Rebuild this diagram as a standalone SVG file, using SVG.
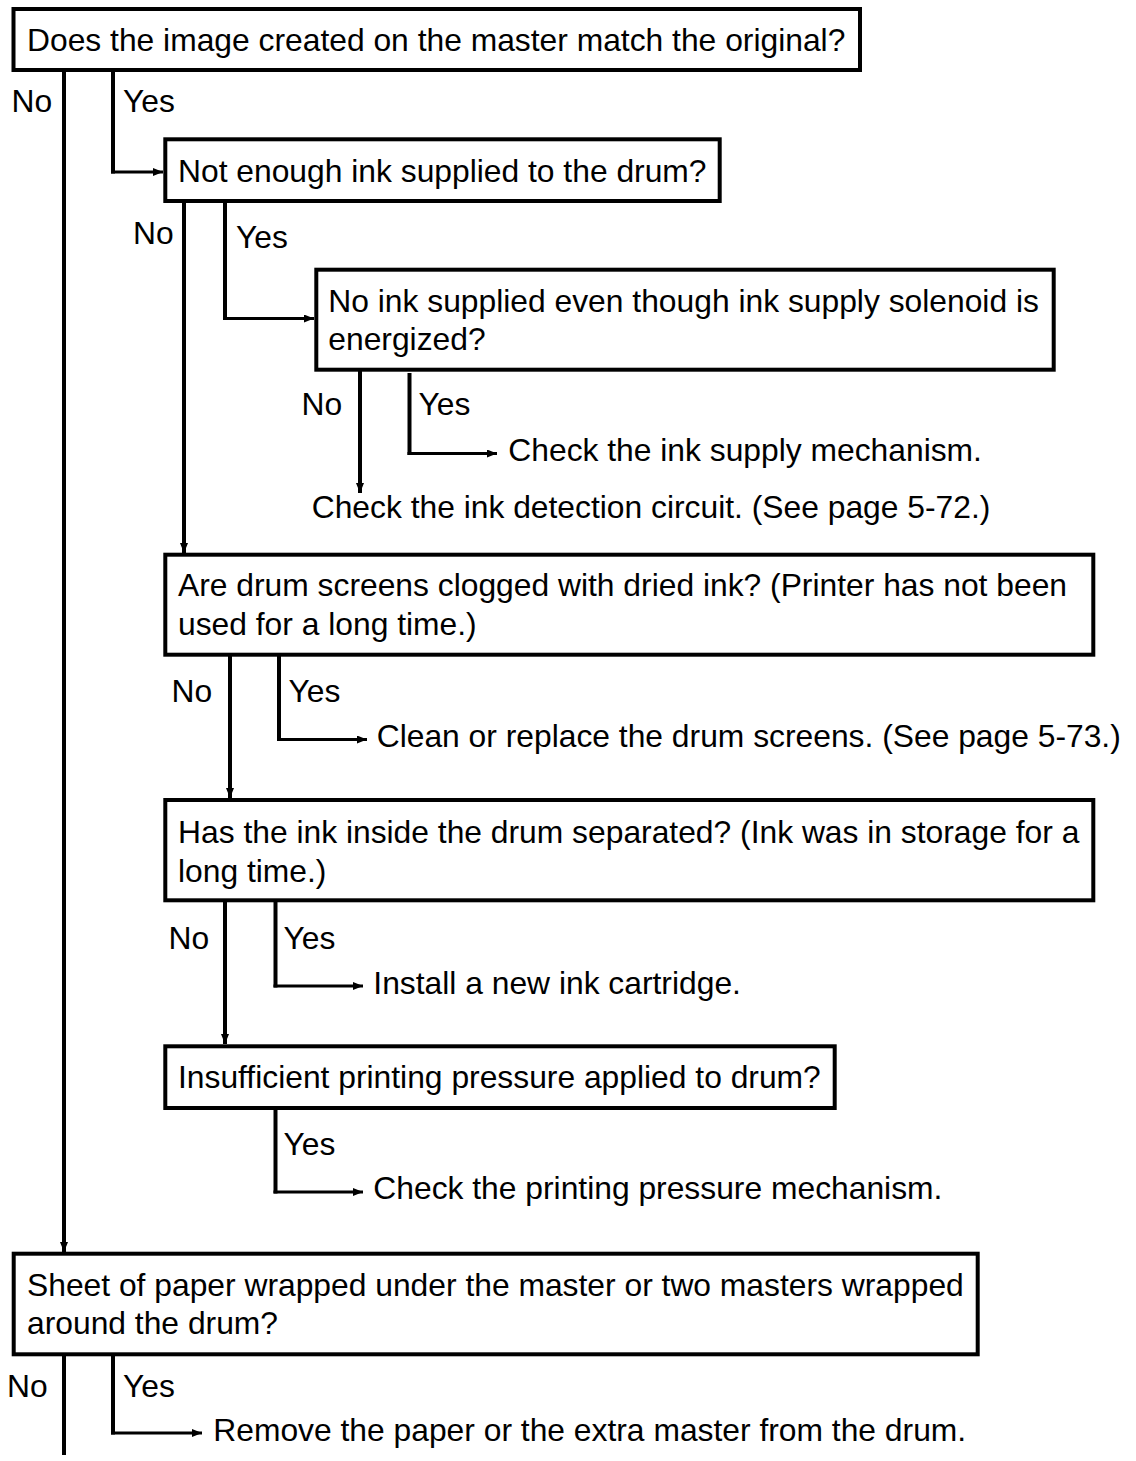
<svg xmlns="http://www.w3.org/2000/svg" width="1136" height="1461" viewBox="0 0 1136 1461">
<style>
text{font-family:"Liberation Sans",Arial,sans-serif;font-size:31.8px;fill:#000}
.box{fill:#fff;stroke:#000;stroke-width:4}
.v{stroke:#000;stroke-width:4;fill:none}
.h{stroke:#000;stroke-width:3;fill:none}
</style>
<defs>
<marker id="arr" markerUnits="userSpaceOnUse" markerWidth="10" markerHeight="8" refX="10" refY="4" orient="auto"><path d="M0,0 L10,4 L0,8 z" fill="#000"/></marker>
</defs>
<g id="connectors">
<line class="v" x1="64" y1="70" x2="64" y2="1252" marker-end="url(#arr)"/>
<line class="v" x1="113" y1="72" x2="113" y2="173.5"/>
<line class="h" x1="111" y1="172" x2="163" y2="172" marker-end="url(#arr)"/>
<line class="v" x1="184" y1="201" x2="184" y2="553" marker-end="url(#arr)"/>
<line class="v" x1="225" y1="202" x2="225" y2="320"/>
<line class="h" x1="223" y1="318.5" x2="314" y2="318.5" marker-end="url(#arr)"/>
<line class="v" x1="360" y1="370" x2="360" y2="493" marker-end="url(#arr)"/>
<line class="v" x1="409.5" y1="373" x2="409.5" y2="455"/>
<line class="h" x1="407.5" y1="453.5" x2="497" y2="453.5" marker-end="url(#arr)"/>
<line class="v" x1="230" y1="655" x2="230" y2="798" marker-end="url(#arr)"/>
<line class="v" x1="279" y1="656" x2="279" y2="741"/>
<line class="h" x1="277" y1="739.5" x2="367" y2="739.5" marker-end="url(#arr)"/>
<line class="v" x1="225" y1="900" x2="225" y2="1044" marker-end="url(#arr)"/>
<line class="v" x1="275.5" y1="901" x2="275.5" y2="987.5"/>
<line class="h" x1="273.5" y1="986" x2="363" y2="986" marker-end="url(#arr)"/>
<line class="v" x1="275.5" y1="1109" x2="275.5" y2="1193.5"/>
<line class="h" x1="273.5" y1="1192" x2="363" y2="1192" marker-end="url(#arr)"/>
<line class="v" x1="64" y1="1354" x2="64" y2="1455"/>
<line class="v" x1="113" y1="1355" x2="113" y2="1434.5"/>
<line class="h" x1="111" y1="1433" x2="202" y2="1433" marker-end="url(#arr)"/>
</g>
<g id="labels">
<text x="11.5" y="111.5">No</text>
<text x="123" y="111.5">Yes</text>
<text x="133" y="244">No</text>
<text x="236" y="248">Yes</text>
<text x="301.5" y="415">No</text>
<text x="418.5" y="415">Yes</text>
<text x="171.5" y="701.5">No</text>
<text x="288.5" y="701.5">Yes</text>
<text x="168.5" y="948.5">No</text>
<text x="283.5" y="948.5">Yes</text>
<text x="283.5" y="1155">Yes</text>
<text x="7" y="1397">No</text>
<text x="123" y="1397">Yes</text>
</g>
<g id="n1"><rect class="box" x="13.5" y="9" width="846.5" height="61"/><text x="27" y="51">Does the image created on the master match the original?</text></g>
<g id="n2"><rect class="box" x="165.3" y="139.3" width="554.4" height="61.7"/><text x="178" y="181.7">Not enough ink supplied to the drum?</text></g>
<g id="n3"><rect class="box" x="316.3" y="269.7" width="737.4" height="100"/><text x="328.3" y="311.7">No ink supplied even though ink supply solenoid is</text><text x="328.3" y="350">energized?</text></g>
<g id="r1"><text x="508.3" y="460.7">Check the ink supply mechanism.</text></g>
<g id="r2"><text x="311.7" y="518.3">Check the ink detection circuit. (See page 5-72.)</text></g>
<g id="n4"><rect class="box" x="165.3" y="554.7" width="928" height="100"/><text x="178" y="596">Are drum screens clogged with dried ink? (Printer has not been</text><text x="178" y="634.5">used for a long time.)</text></g>
<g id="r3"><text x="376.7" y="747">Clean or replace the drum screens. (See page 5-73.)</text></g>
<g id="n5"><rect class="box" x="165.3" y="800" width="928" height="100.3"/><text x="178" y="843">Has the ink inside the drum separated? (Ink was in storage for a</text><text x="178" y="881.7">long time.)</text></g>
<g id="r4"><text x="373.3" y="993.5">Install a new ink cartridge.</text></g>
<g id="n6"><rect class="box" x="165.3" y="1046.3" width="669.4" height="61.7"/><text x="178" y="1088.3">Insufficient printing pressure applied to drum?</text></g>
<g id="r5"><text x="373.3" y="1199">Check the printing pressure mechanism.</text></g>
<g id="n7"><rect class="box" x="13.7" y="1253.7" width="964" height="100.6"/><text x="27" y="1295.5">Sheet of paper wrapped under the master or two masters wrapped</text><text x="27" y="1334">around the drum?</text></g>
<g id="r6"><text x="213.3" y="1441">Remove the paper or the extra master from the drum.</text></g>
</svg>
